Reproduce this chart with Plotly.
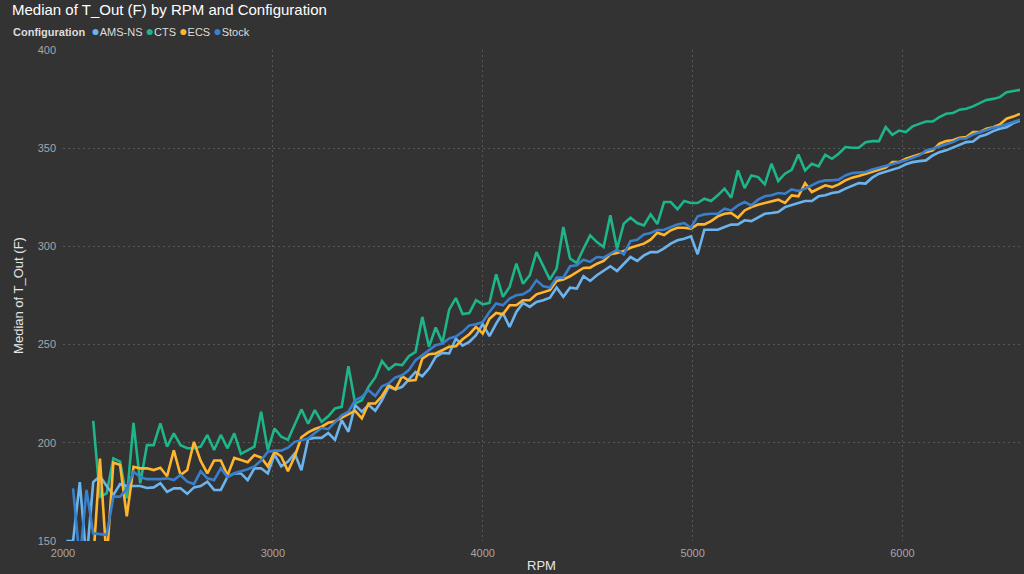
import plotly.graph_objects as go

# RPM bins (32 RPM steps)
rpm = list(range(2016, 6561, 32))

ams_ns = [
    150, 150, 180, 140, 180, 183, 178, 173.5, 179, 178,
    178, 178, 177, 177.3, 179.4, 175, 176.8, 176.8, 174, 177.3,
    178, 180.2, 176, 176, 182.7, 184.4, 184.4, 181, 187, 187,
    184.4, 194, 188, 190.4, 194.5, 186, 202, 202.5, 202.5, 205,
    201.5, 211.5, 205.6, 219.2, 215.8, 219.2, 216.3, 221.7, 228.5, 227.2,
    228.5, 232.2, 236.1, 233.9, 237.8, 243.8, 245.8, 245.5, 253.1, 249.5,
    251.4, 254.8, 260.4, 254.3, 260.7, 266.1, 259, 266.6, 271.2, 269.2,
    271.7, 272.6, 273.9, 279, 274.3, 279, 278.5, 284.8, 282.4, 285.3,
    287.8, 289.9, 287.5, 290.9, 294.6, 292.6, 295.4, 297.1, 297.1, 299,
    301.4, 303.1, 303.9, 305.1, 296, 308.5, 308.5, 308.5, 309.9, 311.1,
    311.2, 313.3, 312.9, 314.6, 316.6, 317, 317.5, 320, 320.9, 322.1,
    323.1, 323.1, 325.5, 326, 327.2, 327.7, 329.4, 330.6, 332.2, 332,
    335, 337, 337.9, 339.1, 340.1, 341.8, 342.9, 343.4, 343.8, 346.3,
    348, 348.9, 350.2, 351.9, 353.1, 353.4, 356, 357, 358.7, 359.9,
    360.7, 362.8, 364.1,
]

cts = [
    None, None, None, None, 211.2, 172.5, 174.3, 192.1, 190.4, 171.7,
    210.2, 179.4, 198.8, 198.8, 209.9, 198, 204.8, 198.8, 197.2, 197.2,
    198, 204, 196.3, 204, 197.2, 204.8, 194.3, 196.3, 198, 215.8,
    196.3, 207.3, 203.1, 201.5, 209, 217, 209.7, 216.6, 210.7, 213.5,
    217.5, 218.3, 239, 220, 221.7, 228.5, 233.3, 241.6, 237.3, 240,
    239.5, 244.1, 246.3, 264.1, 248.9, 258.7, 250.9, 267.8, 273.7, 265.6,
    266.1, 272.6, 270.5, 271.2, 285.8, 274.3, 279.3, 291.2, 281, 285.3,
    297.1, 290.4, 283.1, 288.7, 309.9, 293.8, 291.5, 298.8, 305.6, 302.2,
    299.7, 315.8, 298.8, 311.6, 314.6, 311.9, 310.7, 316.3, 311.4, 322.6,
    322.6, 318.9, 323.1, 322.1, 322.1, 324.3, 323.1, 326, 329.4, 324.8,
    338.7, 329.7, 336.1, 335.3, 331.6, 342.1, 333.3, 337, 339, 346.8,
    338.7, 342.1, 340.7, 346.6, 344.6, 347.2, 350.6, 350.2, 350.2, 353,
    353.6, 353.6, 360.7, 356.8, 359, 358.2, 361.1, 362.4, 363.6, 363.6,
    365.8, 367.5, 367.9, 369.6, 370.1, 371.3, 373, 374.6, 375.1, 376,
    378.5, 379, 379.7,
]

ecs = [
    None, None, None, None, 140, 192, 140, 189.9, 188.7, 162.5,
    187.8, 187, 187, 186.1, 187.3, 183, 196.2, 183.6, 186.1, 200.5,
    190.8, 184.4, 191, 191, 183.4, 192.3, 191.2, 190.1, 193.8, 192.5,
    188, 195.5, 193, 185.5, 193, 202.8, 205.3, 207, 208.2, 210.2,
    211, 212.6, 214.6, 216.3, 212.4, 220, 220, 223.8, 229.3, 227.2,
    233.9, 231.6, 231.9, 242.9, 245.1, 245.5, 247.2, 248.9, 249.2, 252.7,
    255.3, 259, 255.6, 263.2, 266.1, 265.4, 270, 270, 272.6, 272.6,
    275.6, 276.8, 277.7, 282.4, 283.1, 284.8, 287, 289, 289.2, 291.2,
    292.6, 296, 296.6, 297.7, 299.3, 300.5, 301.4, 303.4, 307, 305.8,
    308.2, 309.5, 309.5, 309, 311.2, 311.2, 312.9, 315.3, 316.6, 317,
    314.6, 318.3, 320, 321.2, 322.1, 322.9, 323.8, 322.1, 326, 325.5,
    332.2, 327.7, 329.4, 331.1, 330.2, 331.6, 333.6, 335, 335.8, 336.8,
    337.9, 339.1, 340.1, 342.9, 342.9, 344.6, 345.8, 347.2, 348, 348.9,
    352.3, 353.6, 354, 355.3, 355.7, 358.2, 358.2, 359.9, 360.7, 362.1,
    365, 366.1, 367.5,
]

stock = [
    None, 176.8, 140, 176, 153.9, 153.5, 153.1, 172.6, 172.6, 176.5,
    185.3, 182.5, 181.5, 181.5, 181.5, 181.9, 181, 183.6, 180.2, 179,
    185.5, 181.9, 181, 187, 182.6, 184.5, 185.5, 186.5, 188, 191,
    195.5, 196, 196, 197.5, 200.5, 201.5, 202.2, 205, 207.5, 207,
    210.5, 214, 215.8, 221.7, 223.4, 226.8, 223.8, 228.8, 230.2, 233.3,
    234.4, 237, 242.1, 244.6, 247.2, 249.7, 250.5, 253.1, 254.1, 256.5,
    259.8, 260.4, 261.5, 266.6, 270.9, 270, 273.4, 275.1, 275.6, 277.7,
    282.7, 279.7, 279, 284.1, 284.1, 289.9, 290.4, 293.2, 292.1, 294.6,
    294.3, 296.3, 298.3, 296, 302.7, 303.4, 306.1, 306.8, 308.3, 308.5,
    309.9, 311.2, 311.9, 309.5, 315.3, 316.3, 316.6, 316.6, 319.2, 318.3,
    320.9, 322.6, 320.9, 323.8, 325.5, 326, 327.2, 326.8, 329, 328.2,
    329.4, 331.1, 332.8, 333.6, 333.6, 334, 336.1, 337.3, 337.5, 337.9,
    339.1, 340.1, 341.2, 342.1, 342.9, 343.8, 345.1, 346.3, 348.9, 349.7,
    350.9, 351.9, 353.1, 354.8, 355.1, 357, 358.2, 359, 360.4, 361.1,
    362.1, 363.3, 364.5,
]

series_names = ["AMS-NS", "CTS", "ECS", "Stock"]
series_values = [ams_ns, cts, ecs, stock]
series_colors = ["#6CB4EE", "#1FB58A", "#FFB62E", "#3A7FCC"]

x_ticks = [2000, 3000, 4000, 5000, 6000]
y_ticks = [150, 200, 250, 300, 350, 400]

BG = "#333333"
GRID = "#575757"
TICK = "#a6a6a6"

fig = go.Figure()
for idx in [1, 0, 2, 3]:
    fig.add_trace(go.Scatter(
        x=rpm, y=series_values[idx], mode="lines", name=series_names[idx],
        line=dict(color=series_colors[idx], width=2.6),
        connectgaps=False, showlegend=False,
    ))

legend_parts = ['<b>Configuration</b> ']
for n, c in zip(series_names, series_colors):
    legend_parts.append(f'<span style="color:{c};font-size:14px">●</span>{n}')
legend_text = " ".join(legend_parts)

fig.update_layout(
    width=1024, height=574,
    paper_bgcolor=BG, plot_bgcolor=BG,
    margin=dict(l=63, r=4, t=50, b=33),
    font=dict(family="Liberation Sans, Arial, sans-serif", color="#dddddd", size=11),
    title=dict(text="Median of T_Out (F) by RPM and Configuration",
               x=12 / 1024, xanchor="left", xref="container",
               y=1 - 9.5 / 574, yanchor="middle", yref="container",
               font=dict(size=15, color="#ffffff")),
    showlegend=False,
    annotations=[dict(text=legend_text, xref="paper", yref="paper",
                      x=(11 - 63) / 957, y=1 + (50 - 31) / 491, xanchor="left", yanchor="middle",
                      showarrow=False, font=dict(size=11, color="#dddddd"))],
    xaxis=dict(range=[2000, 6560], tickvals=x_ticks, ticktext=[str(v) for v in x_ticks],
               showgrid=True, gridcolor=GRID, griddash="1.5px,3.5px", gridwidth=1,
               zeroline=False, showline=False, ticks="",
               ticklabelstandoff=4,
               tickfont=dict(color=TICK, size=11),
               title=dict(text="RPM", font=dict(size=13, color="#e6e6e6"), standoff=2)),
    yaxis=dict(range=[150, 400], tickvals=y_ticks, ticktext=[str(v) for v in y_ticks],
               showgrid=True, gridcolor=GRID, griddash="1.5px,3.5px", gridwidth=1,
               zeroline=False, showline=False, ticks="",
               ticklabelstandoff=6,
               tickfont=dict(color=TICK, size=11),
               title=dict(text="Median of T_Out (F)", font=dict(size=13, color="#e6e6e6"), standoff=11)),
)

fig.write_html("out.html", config={"displayModeBar": False},
               post_script="document.body.style.margin='0';")
